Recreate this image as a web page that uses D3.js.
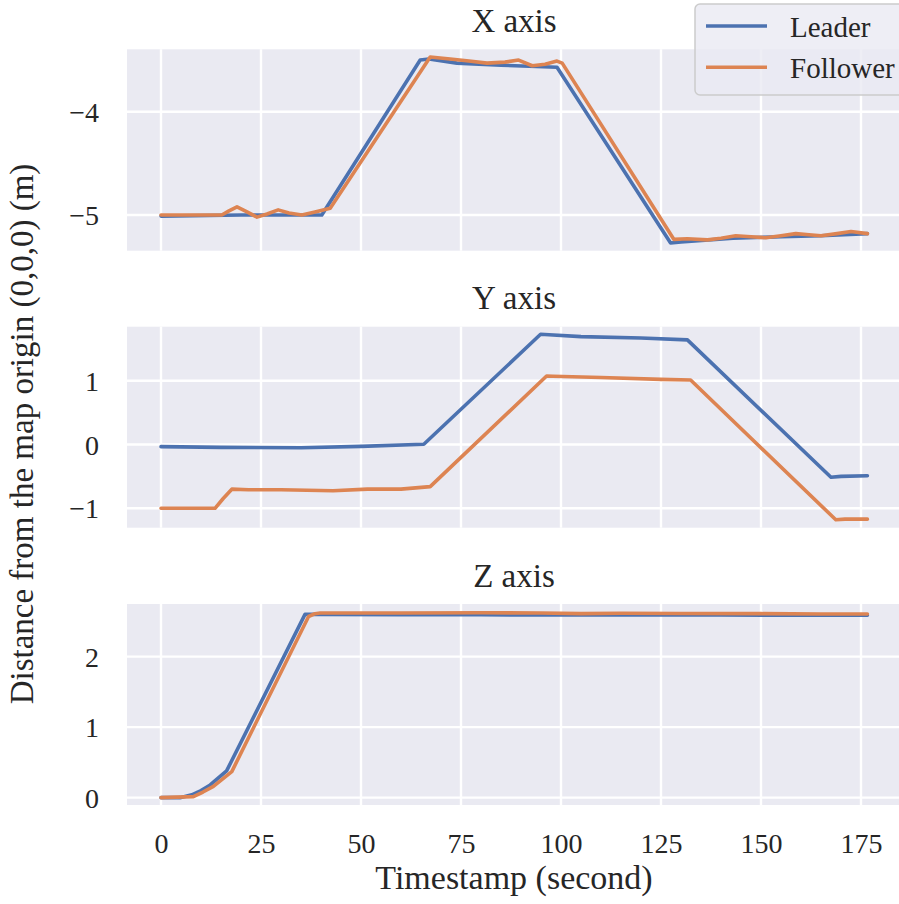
<!DOCTYPE html>
<html>
<head>
<meta charset="utf-8">
<script src="https://cdn.jsdelivr.net/npm/d3@7"></script>
<style>
  body { margin: 0; background: #fff; }
  .serif { font-family: "Liberation Serif"; fill: #262626; }
</style>
</head>
<body>
<div id="chart"></div>
<script>
// Data (time in seconds, distance in metres)
const leaderX_t = [0, 20, 40.2, 64.8, 67, 74, 85, 99, 127.4, 130, 143, 155, 165, 176.6];
const leaderX = [-5.01, -5.0, -5.0, -3.5, -3.49, -3.53, -3.55, -3.57, -5.27, -5.26, -5.225, -5.21, -5.2, -5.18];
const followerX_t = [0, 15.2, 17, 19, 21.5, 24, 26.5, 29.3, 32, 35.2, 38.5, 42.3, 67.3, 72.3, 77, 81.5, 86, 89.4, 92.8, 96, 99, 100.3, 128.2, 131.6, 136.6, 140, 143.7, 147.5, 151.2, 155, 158.7, 162, 165, 169, 172.5, 176.6];
const followerX = [-5.0, -5.0, -4.96, -4.92, -4.97, -5.02, -4.99, -4.95, -4.98, -5.0, -4.97, -4.935, -3.47, -3.49, -3.51, -3.53, -3.52, -3.5, -3.555, -3.54, -3.51, -3.53, -5.235, -5.23, -5.24, -5.225, -5.2, -5.21, -5.22, -5.2, -5.18, -5.19, -5.2, -5.18, -5.16, -5.18];

const leaderY_t = [0, 15, 35, 50, 65.7, 94.9, 97, 105, 120, 131.6, 167.5, 170, 176.6];
const leaderY = [-0.034, -0.045, -0.05, -0.03, 0.003, 1.727, 1.72, 1.69, 1.67, 1.64, -0.514, -0.5, -0.49];
const followerY_t = [0, 13.5, 15.5, 17.7, 21.9, 30, 43, 51.6, 60, 67.3, 96.4, 98, 110, 125, 132.4, 168.7, 171, 176.6];
const followerY = [-1.0, -1.0, -0.85, -0.70, -0.71, -0.71, -0.724, -0.70, -0.70, -0.66, 1.074, 1.07, 1.05, 1.02, 1.01, -1.18, -1.17, -1.17];

const leaderZ_t = [0, 4.75, 7.7, 10, 12.3, 16.4, 36, 39.8, 60, 80, 100, 120, 140, 160, 176.6];
const leaderZ = [0, 0, 0.04, 0.1, 0.18, 0.38, 2.60, 2.60, 2.595, 2.595, 2.59, 2.59, 2.59, 2.588, 2.587];
const followerZ_t = [0, 8.1, 10.5, 13.1, 17.7, 36.9, 38.5, 39.8, 60, 80, 95, 105, 115, 130, 150, 165, 176.6];
const followerZ = [0, 0.015, 0.08, 0.16, 0.37, 2.57, 2.61, 2.62, 2.62, 2.622, 2.62, 2.61, 2.615, 2.612, 2.61, 2.605, 2.605];

const panelTitles = ["X axis", "Y axis", "Z axis"];
const yTicks = [[-5, -4], [-1, 0, 1], [0, 1, 2]];
const xTicks = [0, 25, 50, 75, 100, 125, 150, 175];
const seriesNames = ["Leader", "Follower"];

// layout
const width = 899, height = 904;
const colors = ["#4C72B0", "#DD8452"];
const panels = [
  { top: 49.3, bottom: 250.7, domain: [-5.345, -3.396] },
  { top: 326.7, bottom: 527.7, domain: [-1.304, 1.846] },
  { top: 604, bottom: 805, domain: [-0.104, 2.747] }
];
const left = 127, right = 899, midX = 514;
const FONT = '"Liberation Serif", "Times New Roman", serif';

const x = d3.scaleLinear().domain([-8.5, 184.5]).range([left, right]);

const svg = d3.select("#chart").append("svg")
  .attr("width", width)
  .attr("height", height);

const pairs = [
  [[leaderX_t, leaderX], [followerX_t, followerX]],
  [[leaderY_t, leaderY], [followerY_t, followerY]],
  [[leaderZ_t, leaderZ], [followerZ_t, followerZ]]
];

const fmt = d => d < 0 ? "\u2212" + Math.abs(d) : String(d);

function label(sel, size) {
  return sel.attr("class", "serif")
    .style("font-family", FONT)
    .style("font-size", size + "px")
    .style("fill", "#262626");
}

panels.forEach(function (p, i) {
  const y = d3.scaleLinear().domain(p.domain).range([p.bottom, p.top]);
  const g = svg.append("g");

  g.append("rect")
    .attr("x", left).attr("y", p.top)
    .attr("width", right - left).attr("height", p.bottom - p.top)
    .attr("fill", "#EAEAF2");

  // grid
  g.append("g").selectAll("line")
    .data(xTicks).join("line")
    .attr("x1", d => x(d)).attr("x2", d => x(d))
    .attr("y1", p.top).attr("y2", p.bottom)
    .attr("stroke", "#fff").attr("stroke-width", 2.4);
  g.append("g").selectAll("line")
    .data(yTicks[i]).join("line")
    .attr("x1", left).attr("x2", right)
    .attr("y1", d => y(d)).attr("y2", d => y(d))
    .attr("stroke", "#fff").attr("stroke-width", 2.4);

  // y tick labels
  const ax = g.append("g")
    .attr("transform", `translate(${left},0)`)
    .call(d3.axisLeft(y).tickValues(yTicks[i]).tickSize(0).tickPadding(28).tickFormat(fmt));
  ax.select(".domain").remove();
  label(ax.selectAll("text"), 28).attr("dy", "0.34em");

  // title
  label(g.append("text"), 33)
    .attr("x", midX)
    .attr("y", p.top - 17.5)
    .attr("text-anchor", "middle")
    .text(panelTitles[i]);

  // lines
  const line = d3.line().x(d => x(d[0])).y(d => y(d[1]));
  pairs[i].forEach(function (s, k) {
    const pts = s[0].map((t, j) => [t, s[1][j]]);
    g.append("path")
      .datum(pts)
      .attr("d", line)
      .attr("fill", "none")
      .attr("stroke", colors[k])
      .attr("stroke-width", 3.6)
      .attr("stroke-linejoin", "round")
      .attr("stroke-linecap", "round");
  });

  if (i === 2) {
    const xa = g.append("g")
      .attr("transform", `translate(0,${p.bottom})`)
      .call(d3.axisBottom(x).tickValues(xTicks).tickSize(0).tickPadding(0));
    xa.select(".domain").remove();
    label(xa.selectAll("text"), 28)
      .attr("y", 48)
      .attr("dy", 0);
  }
});

// axis labels
label(svg.append("text"), 34)
  .attr("x", midX)
  .attr("y", 889)
  .attr("text-anchor", "middle")
  .text("Timestamp (second)");

label(svg.append("text"), 33)
  .attr("transform", "translate(33,434) rotate(-90)")
  .attr("text-anchor", "middle")
  .text("Distance from the map origin (0,0,0) (m)");

// legend
const leg = svg.append("g");
leg.append("rect")
  .attr("x", 695).attr("y", 4)
  .attr("width", 230).attr("height", 91)
  .attr("rx", 5)
  .attr("fill", "#EAEAF2").attr("fill-opacity", 0.8)
  .attr("stroke", "#cccccc").attr("stroke-width", 1.5);
seriesNames.forEach(function (name, k) {
  const yy = 26 + k * 41.3;
  leg.append("line")
    .attr("x1", 706).attr("x2", 767)
    .attr("y1", yy).attr("y2", yy)
    .attr("stroke", colors[k]).attr("stroke-width", 3.6);
  label(leg.append("text"), 29)
    .attr("x", 790).attr("y", yy + 10.5)
    .text(name);
});
</script>
</body>
</html>
